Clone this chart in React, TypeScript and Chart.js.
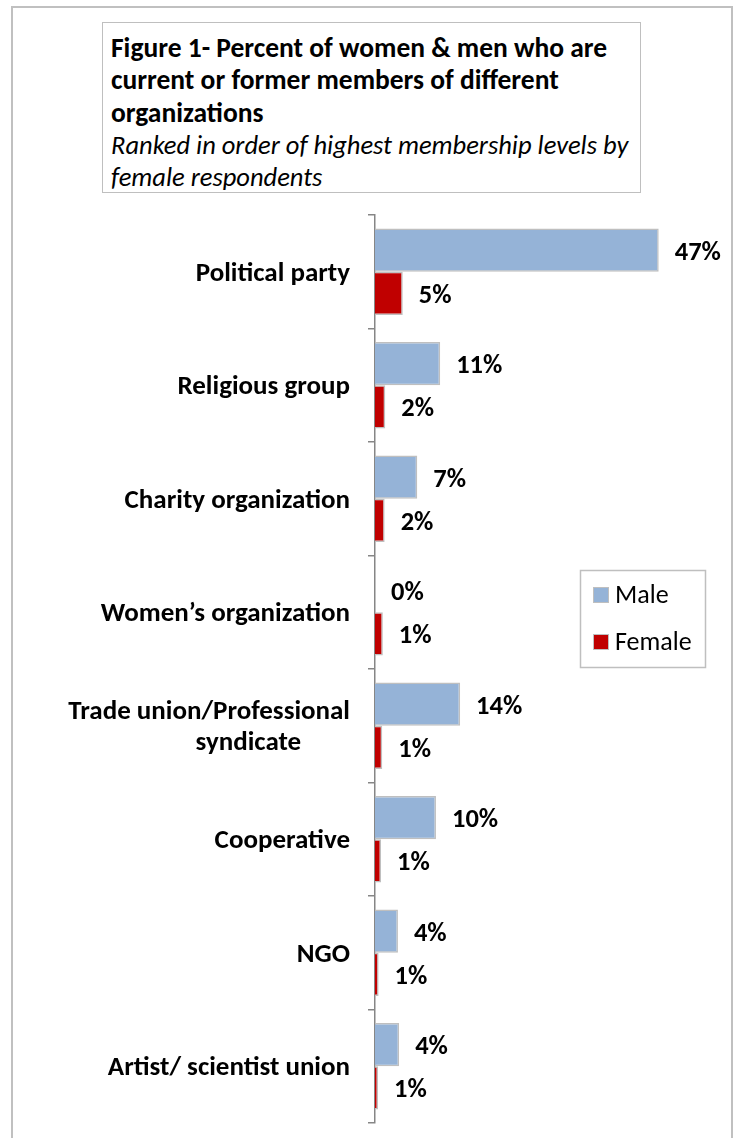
import React, { useEffect, useRef } from "react";
import { Chart, registerables } from "chart.js";

Chart.register(...registerables);

const categories: (string | string[])[] = [
  "Political party",
  "Religious group",
  "Charity organization",
  "Women\u2019s organization",
  ["Trade union/Professional", "syndicate        "],
  "Cooperative",
  "NGO",
  "Artist/ scientist union",
];

const maleValues = [47, 10.8, 7, 0, 14.1, 10.1, 3.8, 4];
const femaleValues = [4.6, 1.7, 1.6, 1.3, 1.2, 1.0, 0.6, 0.5];

const seriesNames = ["Male", "Female"];
const seriesColors = ["#95b3d7", "#c00000"];

const FONT = "Carlito, Lato, 'Open Sans', sans-serif";

const frameplugin = {
  id: "frame",
  beforeDraw(chart: any) {
    const ctx = chart.ctx;
    ctx.save();
    ctx.strokeStyle = "#c0c0c0";
    ctx.lineWidth = 2;
    ctx.beginPath();
    ctx.moveTo(12, 1138);
    ctx.lineTo(12, 7);
    ctx.lineTo(732, 7);
    ctx.lineTo(732, 1138);
    ctx.stroke();
    ctx.restore();
  },
};

const valueLabels = {
  id: "valueLabels",
  afterDatasetsDraw(chart: any) {
    const ctx = chart.ctx;
    ctx.save();
    ctx.font = `bold 26.5px ${FONT}`;
    ctx.fillStyle = "#000";
    ctx.textAlign = "left";
    ctx.textBaseline = "middle";
    chart.data.datasets.forEach((ds: any, di: number) => {
      const meta = chart.getDatasetMeta(di);
      meta.data.forEach((bar: any, i: number) => {
        const v = ds.data[i];
        ctx.fillText(`${Math.round(v)}%`, bar.x + 16, bar.y + 3);
      });
    });
    ctx.restore();
  },
};

const legendBox = {
  id: "legendBox",
  afterDraw(chart: any) {
    const ctx = chart.ctx;
    ctx.save();
    ctx.strokeStyle = "#bfbfbf";
    ctx.lineWidth = 1.5;
    ctx.strokeRect(580.5, 570.5, 125, 97);
    chart.data.datasets.forEach((ds: any, i: number) => {
      const cy = 595 + i * 47;
      ctx.fillStyle = ds.backgroundColor;
      ctx.fillRect(594, cy - 7, 14, 14);
      ctx.strokeStyle = "#bfbfbf";
      ctx.lineWidth = 1;
      ctx.strokeRect(593.5, cy - 7.5, 15, 15);
      ctx.fillStyle = "#000";
      ctx.font = `26px ${FONT}`;
      ctx.textAlign = "left";
      ctx.textBaseline = "middle";
      ctx.fillText(ds.label, 615, cy + 1);
    });
    ctx.restore();
  },
};

export default function App() {
  const ref = useRef<HTMLCanvasElement>(null);
  useEffect(() => {
    if (!ref.current) return;
    const chart = new Chart(ref.current, {
      type: "bar",
      data: {
        labels: categories,
        datasets: [
          {
            label: seriesNames[0],
            data: maleValues,
            backgroundColor: seriesColors[0],
            borderColor: "#bfbfbf",
            borderWidth: 1.5,
            categoryPercentage: 0.76,
            barPercentage: 1,
          },
          {
            label: seriesNames[1],
            data: femaleValues,
            backgroundColor: seriesColors[1],
            borderColor: "#bfbfbf",
            borderWidth: 1.5,
            categoryPercentage: 0.76,
            barPercentage: 1,
          },
        ],
      },
      options: {
        indexAxis: "y",
        responsive: false,
        animation: false,
        devicePixelRatio: 1,
        layout: { padding: { left: 0, top: 215, bottom: 15, right: 31 } },
        plugins: {
          legend: { display: false },
          tooltip: { enabled: false },
          title: { display: false },
        },
        scales: {
          x: {
            display: false,
            min: 0,
            max: 55,
          },
          y: {
            afterFit(scale: any) {
              scale.width = 375;
              scale.paddingTop = 0;
              scale.paddingBottom = 0;
            },
            border: { display: true, color: "#868686", width: 1.5 },
            grid: {
              offset: true,
              drawOnChartArea: false,
              drawTicks: true,
              tickLength: 7,
              color: "#868686",
              lineWidth: 1.5,
            },
            ticks: {
              color: "#000",
              padding: 18,
              labelOffset: 2,
              font: { family: FONT, size: 27, weight: "bold", lineHeight: 1.185 },
            },
          },
        },
      },
      plugins: [frameplugin, valueLabels, legendBox],
    } as any);
    return () => chart.destroy();
  }, []);

  return (
    <div style={{ position: "absolute", left: 0, top: 0, width: 738, height: 1138 }}>
      <canvas ref={ref} width={738} height={1138} style={{ display: "block" }} />
      <div
        style={{
          position: "absolute",
          left: 102,
          top: 22,
          width: 539,
          height: 171,
          boxSizing: "border-box",
          border: "1.5px solid #bfbfbf",
          padding: "9px 0 0 8px",
          fontFamily: FONT,
          lineHeight: "32.3px",
          color: "#000",
          background: "#fff",
          whiteSpace: "nowrap",
        }}
      >
        <div style={{ fontWeight: "bold", fontSize: 27.5 }}>
          Figure 1- Percent of women &amp; men who are
          <br />
          current or former members of different
          <br />
          organizations
        </div>
        <div style={{ fontStyle: "italic", fontSize: 26.5 }}>
          Ranked in order of highest membership levels by
          <br />
          female respondents
        </div>
      </div>
    </div>
  );
}
